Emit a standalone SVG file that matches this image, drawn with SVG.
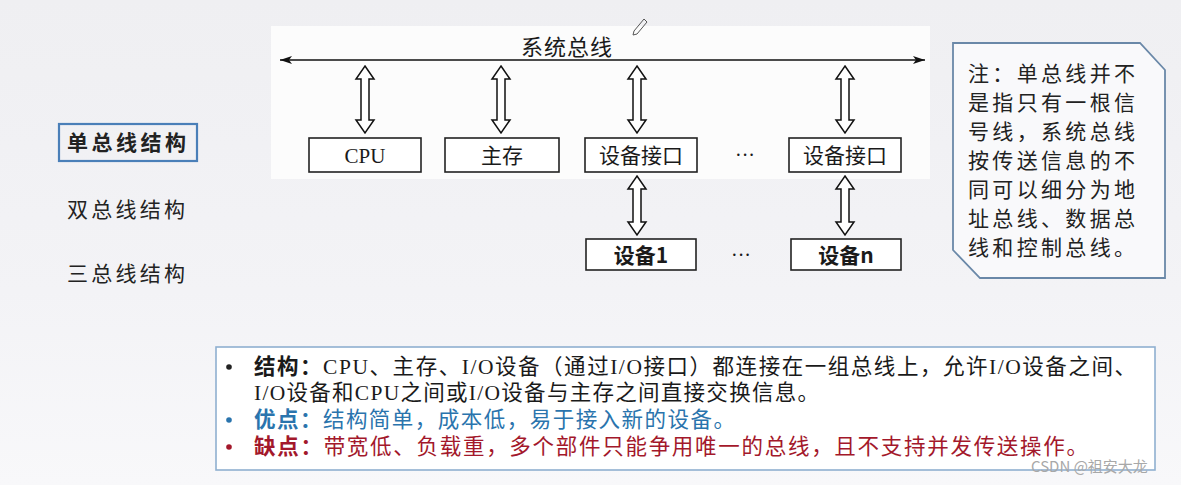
<svg xmlns="http://www.w3.org/2000/svg" width="1181" height="485" viewBox="0 0 1181 485">
<style>
.box{fill:#ffffff;stroke:#222;stroke-width:1.6}
.dbl{fill:#ffffff;stroke:#111;stroke-width:1.5;stroke-linejoin:miter}
.serif{font-family:"Liberation Serif","Noto Sans CJK SC",serif;fill:#1a1a1a}
.sans{font-family:"Noto Sans CJK SC","Liberation Sans",sans-serif;fill:#1a1a1a}
.lbl{font-size:21px;text-anchor:middle}
.side{font-size:21px;fill:#222}
.note{font-size:21px;fill:#222}
.bul{font-family:"Liberation Serif","Noto Sans CJK SC",serif;font-size:21.5px}
</style>
<defs>
<linearGradient id="bg" x1="0" y1="0" x2="0" y2="1">
<stop offset="0" stop-color="#efeff2"/>
<stop offset="0.6" stop-color="#f3f3f6"/>
<stop offset="1" stop-color="#f8f8fa"/>
</linearGradient>
<marker id="ah" viewBox="0 0 12 8" refX="12" refY="4" markerWidth="12" markerHeight="8" markerUnits="userSpaceOnUse" orient="auto-start-reverse">
<path d="M0,0 L12,4 L0,8 L3,4 Z" fill="#111"/>
</marker>
<path id="d1" class="dbl" d="M0,66 L9,79 L4,79 L4,120 L9,120 L0,133 L-9,120 L-4,120 L-4,79 L-9,79 Z"/>
<path id="d2" class="dbl" d="M0,176 L9,189 L4,189 L4,222 L9,222 L0,235 L-9,222 L-4,222 L-4,189 L-9,189 Z"/>
</defs>
<rect width="1181" height="485" fill="url(#bg)"/>
<rect x="271" y="26" width="659" height="153" fill="#fcfcfc"/>

<g id="side-labels">
<rect x="59" y="124" width="138" height="37" fill="none" stroke="#4a7fb8" stroke-width="2.2"/>
<text class="sans side" x="67" y="150" font-weight="bold" textLength="119" lengthAdjust="spacing">单总线结构</text>
<text class="sans side" x="67" y="217" textLength="118" lengthAdjust="spacing">双总线结构</text>
<text class="sans side" x="67" y="281" textLength="118" lengthAdjust="spacing">三总线结构</text>
</g>

<g id="connectors">
<line x1="280" y1="60" x2="925" y2="60" stroke="#111" stroke-width="1.5" marker-start="url(#ah)" marker-end="url(#ah)"/>
<use href="#d1" x="365"/>
<use href="#d1" x="501"/>
<use href="#d1" x="637"/>
<use href="#d1" x="845"/>
<use href="#d2" x="637"/>
<use href="#d2" x="845"/>
</g>

<g id="bus-label"><text class="serif" x="521" y="55" font-size="22" textLength="91" lengthAdjust="spacing">系统总线</text></g>
<g id="pencil" stroke="#555" stroke-width="1" fill="none">
<path d="M634,31 L644,19 L647,22 L637,34 L633,35 Z"/>
</g>

<g id="cpu"><rect class="box" x="309" y="138" width="112" height="34"/><text class="serif lbl" x="365" y="163" font-size="21">CPU</text></g>
<g id="mem"><rect class="box" x="445" y="138" width="114" height="34"/><text class="serif lbl" x="502" y="163">主存</text></g>
<g id="if1"><rect class="box" x="585" y="138" width="112" height="34"/><text class="serif lbl" x="641" y="163">设备接口</text></g>
<g id="dots1"><text class="serif" x="745" y="162" font-size="20" text-anchor="middle">···</text></g>
<g id="ifn"><rect class="box" x="789" y="138" width="112" height="34"/><text class="serif lbl" x="845" y="163">设备接口</text></g>
<g id="dev1"><rect class="box" x="586" y="239" width="110" height="31"/><text class="sans lbl" x="641" y="263" font-size="20" font-weight="bold">设备1</text></g>
<g id="dots2"><text class="serif" x="741" y="262" font-size="20" text-anchor="middle">···</text></g>
<g id="devn"><rect class="box" x="791" y="239" width="110" height="31"/><text class="sans lbl" x="846" y="263" font-size="20" font-weight="bold">设备n</text></g>

<g id="note">
<path d="M953,43 L1140,43 L1165,70 L1165,278 L980,278 L953,250 Z" fill="#f9f9fb" stroke="#6a88a8" stroke-width="1.8"/>
<text class="sans note" x="968" y="81" textLength="167" lengthAdjust="spacing">注：单总线并不</text>
<text class="sans note" x="968" y="110" textLength="167" lengthAdjust="spacing">是指只有一根信</text>
<text class="sans note" x="968" y="139" textLength="167" lengthAdjust="spacing">号线，系统总线</text>
<text class="sans note" x="968" y="168" textLength="167" lengthAdjust="spacing">按传送信息的不</text>
<text class="sans note" x="968" y="197" textLength="167" lengthAdjust="spacing">同可以细分为地</text>
<text class="sans note" x="968" y="226" textLength="167" lengthAdjust="spacing">址总线、数据总</text>
<text class="sans note" x="968" y="255" textLength="167" lengthAdjust="spacing">线和控制总线。</text>
</g>

<g id="summary">
<rect x="216" y="347" width="939" height="123" fill="#ffffff" stroke="#8fb0d0" stroke-width="1.6"/>
<circle cx="229" cy="367" r="2.8" fill="#222"/>
<circle cx="229" cy="420" r="2.8" fill="#2a74ad"/>
<circle cx="229" cy="447" r="2.8" fill="#a3182b"/>
<text class="bul" x="254" y="374" fill="#1a1a1a" textLength="882" lengthAdjust="spacing"><tspan font-weight="bold">结构：</tspan>CPU、主存、I/O设备（通过I/O接口）都连接在一组总线上，允许I/O设备之间、</text>
<text class="bul" x="254" y="400" fill="#1a1a1a" textLength="565" lengthAdjust="spacing">I/O设备和CPU之间或I/O设备与主存之间直接交换信息。</text>
<text class="bul" x="254" y="427" fill="#2a74ad" textLength="481" lengthAdjust="spacing"><tspan font-weight="bold">优点：</tspan>结构简单，成本低，易于接入新的设备。</text>
<text class="bul" x="254" y="454" fill="#a3182b" textLength="834" lengthAdjust="spacing"><tspan font-weight="bold">缺点：</tspan>带宽低、负载重，多个部件只能争用唯一的总线，且不支持并发传送操作。</text>
</g>

<g id="watermark"><text x="1031" y="472" font-family="Noto Sans CJK SC, Liberation Sans, sans-serif" font-size="15" fill="#a8a8a8">CSDN @祖安大龙</text></g>
</svg>
